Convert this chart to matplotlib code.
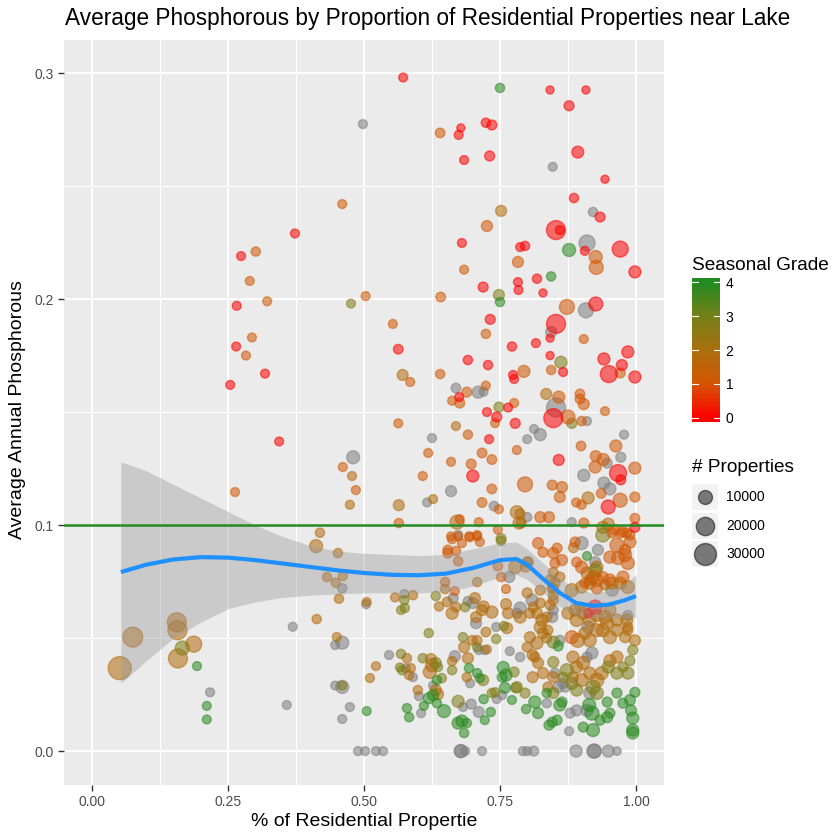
import numpy as np
import matplotlib
matplotlib.use("Agg")
import matplotlib.pyplot as plt
from matplotlib.colors import LinearSegmentedColormap, to_rgba
from matplotlib.patches import Rectangle

plt.rcParams['font.family'] = ['Liberation Sans', 'DejaVu Sans']

# ---- data: (pct residential, avg phosphorous, # properties) per grade class ----
red_x = [0.274, 0.373, 0.266, 0.265, 0.318, 0.254, 0.344, 0.572, 0.724, 0.735, 0.678, 0.674, 0.684, 0.731,
         0.680, 0.719, 0.783, 0.784, 0.787, 0.842, 0.908, 0.877, 0.893, 0.943, 0.886, 0.934, 0.853, 0.860,
         0.796, 0.906, 0.971, 0.998, 0.818, 0.829, 0.926, 0.732, 0.563, 0.772, 0.691, 0.728, 0.774, 0.776,
         0.675, 0.765, 0.726, 0.744, 0.778, 0.730, 0.700, 0.853, 0.842, 0.816, 0.842, 0.866, 0.941, 0.985,
         0.950, 0.974, 0.998, 0.848, 0.858, 0.967, 0.972, 0.949, 0.998, 0.925, 0.912]
red_y = [0.219, 0.229, 0.197, 0.179, 0.167, 0.162, 0.137, 0.298, 0.278, 0.277, 0.2757, 0.2726, 0.2615, 0.2633,
         0.2248, 0.2053, 0.2075, 0.204, 0.223, 0.2925, 0.2925, 0.2855, 0.265, 0.253, 0.2447, 0.2363, 0.2305, 0.2305,
         0.2235, 0.2213, 0.2221, 0.212, 0.209, 0.2027, 0.1978, 0.191, 0.1778, 0.179, 0.173, 0.1708, 0.1664, 0.1646,
         0.1566, 0.152, 0.150, 0.1478, 0.145, 0.138, 0.1217, 0.189, 0.1827, 0.1805, 0.175, 0.1677, 0.1735, 0.1766,
         0.1668, 0.1708, 0.1655, 0.1473, 0.1288, 0.123, 0.120, 0.108, 0.099, 0.0637, 0.061]
red_n = [1500, 1500, 1500, 1500, 1500, 1500, 1500, 1500, 2000, 3000, 500, 1500, 1500, 3000,
         1500, 3000, 1500, 1500, 1500, 500, 500, 3000, 6000, 500, 2000, 3000, 21700, 1500,
         2000, 1500, 14300, 6300, 2000, 500, 10000, 3000, 2500, 2000, 2000, 2000, 1500, 1500,
         1500, 1500, 1500, 3000, 3000, 1500, 6300, 21700, 500, 1500, 500, 1500, 6300, 6300,
         16500, 4500, 6300, 21700, 4500, 16500, 3000, 10000, 3000, 10000, 1500]

orange_x = [0.460, 0.301, 0.290, 0.322, 0.294, 0.283, 0.263, 0.461, 0.485, 0.640, 0.726, 0.684, 0.783, 0.503,
            0.641, 0.926, 0.927, 0.873, 0.553, 0.724, 0.585, 0.640, 0.794, 0.689, 0.724, 0.662, 0.676, 0.776,
            0.741, 0.563, 0.691, 0.781, 0.618, 0.717, 0.660, 0.735, 0.697, 0.608, 0.796, 0.735, 0.717, 0.748,
            0.564, 0.676, 0.711, 0.746, 0.660, 0.673, 0.693, 0.708, 0.904, 0.844, 0.971, 0.858, 0.897, 0.897,
            0.904, 0.875, 0.900, 0.943, 0.899, 0.963, 0.926, 0.940, 0.925, 0.998, 0.846, 0.864, 0.860, 0.936,
            0.890, 0.900, 0.971, 0.998, 0.824, 0.840, 0.904, 0.998, 0.961, 0.976, 0.662, 0.680, 0.708, 0.695,
            0.713, 0.654, 0.669, 0.654, 0.673, 0.746, 0.752, 0.649, 0.667, 0.761, 0.952, 0.967, 0.980, 0.985,
            0.965, 0.980, 0.989, 0.956, 0.971, 0.983, 0.989, 0.888, 0.820, 0.829, 0.848, 0.855, 0.864, 0.851,
            0.921, 0.939, 0.952, 0.976, 0.906, 0.928, 0.900, 0.891, 0.882]
orange_y = [0.242, 0.221, 0.208, 0.199, 0.183, 0.175, 0.1146, 0.1257, 0.1155, 0.2735, 0.2323, 0.213, 0.2164, 0.2013,
            0.2009, 0.2186, 0.214, 0.1965, 0.189, 0.1846, 0.1633, 0.1668, 0.168, 0.1588, 0.1617, 0.155, 0.154, 0.154,
            0.1451, 0.145, 0.140, 0.1332, 0.1319, 0.1319, 0.128, 0.129, 0.127, 0.1217, 0.118, 0.116, 0.110, 0.107,
            0.1009, 0.1026, 0.1013, 0.098, 0.095, 0.095, 0.095, 0.095, 0.1823, 0.1686, 0.1673, 0.1566, 0.158, 0.1558,
            0.1535, 0.1478, 0.146, 0.1504, 0.135, 0.135, 0.1305, 0.129, 0.1257, 0.1252, 0.1177, 0.1168, 0.1124, 0.114,
            0.110, 0.109, 0.111, 0.1124, 0.1035, 0.1035, 0.1009, 0.103, 0.0978, 0.097, 0.0938, 0.092, 0.0956, 0.0947,
            0.0925, 0.089, 0.0885, 0.0876, 0.084, 0.0819, 0.077, 0.0748, 0.0708, 0.0717, 0.0858, 0.0854, 0.0867, 0.0832,
            0.0911, 0.089, 0.0925, 0.0965, 0.0965, 0.0965, 0.0956, 0.0925, 0.092, 0.088, 0.0876, 0.0898, 0.0845, 0.0832,
            0.077, 0.077, 0.0757, 0.077, 0.0743, 0.072, 0.0814, 0.0836, 0.0504]
orange_n = [1500, 2000, 1500, 1500, 1500, 1500, 1500, 1500, 1500, 2500, 4500, 1500, 4500, 1500,
            2500, 8000, 10000, 12000, 1500, 2000, 1500, 2000, 6300, 3000, 1500, 1500, 3000, 1500,
            1500, 1500, 2000, 1500, 1500, 2500, 1500, 2500, 3000, 1500, 12000, 2500, 2500, 1500,
            2000, 1500, 1500, 1500, 1500, 1500, 1500, 1500, 1500, 2000, 3000, 6300, 2500, 2500,
            4500, 10000, 2000, 1500, 2500, 6300, 4500, 6300, 6300, 6300, 3000, 4500, 4500, 2500,
            1500, 2000, 10000, 3000, 4500, 4500, 3000, 2500, 3000, 3000, 2000, 1500, 1500, 2000,
            1500, 2500, 2000, 3000, 2000, 2500, 2000, 2000, 1500, 1500, 6300, 8000, 8000, 8000,
            10000, 4500, 6300, 3000, 3000, 3000, 3000, 3000, 4500, 3000, 4500, 3000, 4500, 3000,
            6300, 4500, 6300, 6300, 3000, 4500, 6300, 3000, 8000]

brown_x = [0.051, 0.075, 0.156, 0.157, 0.187, 0.158, 0.413, 0.419, 0.412, 0.452, 0.478, 0.474, 0.432, 0.448,
           0.461, 0.454, 0.450, 0.752, 0.571, 0.669, 0.627, 0.564, 0.781, 0.671, 0.785, 0.835, 0.912, 0.939,
           0.949, 0.787, 0.789, 0.778, 0.649, 0.708, 0.590, 0.505, 0.638, 0.653, 0.669, 0.662, 0.704, 0.720,
           0.735, 0.717, 0.706, 0.761, 0.765, 0.763, 0.724, 0.708, 0.699, 0.684, 0.726, 0.579, 0.691, 0.623,
           0.662, 0.586, 0.583, 0.522, 0.511, 0.621, 0.625, 0.689, 0.632, 0.636, 0.599, 0.810, 0.829, 0.848,
           0.838, 0.814, 0.820, 0.884, 0.900, 0.915, 0.928, 0.937, 0.952, 0.965, 0.903, 0.891, 0.884, 0.800,
           0.810, 0.805, 0.818, 0.829, 0.838, 0.824, 0.836, 0.893, 0.906, 0.915, 0.928, 0.939, 0.952, 0.965,
           0.980, 0.985, 0.998, 0.947, 0.965, 0.943, 0.952, 0.983, 0.985, 0.891, 0.903, 0.915, 0.928, 0.888,
           0.897, 0.875, 0.818, 0.827, 0.836, 0.787, 0.805, 0.811, 0.824, 0.842, 0.848, 0.800, 0.824, 0.846,
           0.848, 0.882, 0.900, 0.915, 0.928, 0.943, 0.956, 0.971, 0.985, 0.910, 0.915, 0.928, 0.797, 0.801,
           0.848, 0.860, 0.842, 0.851, 0.848, 0.885, 0.557]
brown_y = [0.0367, 0.0504, 0.057, 0.0535, 0.0473, 0.041, 0.0584, 0.0966, 0.0907, 0.0876, 0.1217, 0.109, 0.077, 0.0745,
           0.0775, 0.0674, 0.0505, 0.239, 0.1664, 0.1438, 0.1115, 0.1088, 0.1057, 0.1013, 0.1009, 0.158, 0.112, 0.099,
           0.1004, 0.105, 0.101, 0.0814, 0.0717, 0.0748, 0.069, 0.066, 0.064, 0.066, 0.0637, 0.061, 0.0677, 0.064,
           0.0615, 0.0624, 0.0593, 0.065, 0.061, 0.0544, 0.0527, 0.049, 0.049, 0.046, 0.045, 0.0411, 0.0411, 0.0407,
           0.0398, 0.0367, 0.0336, 0.0376, 0.0323, 0.035, 0.038, 0.0327, 0.027, 0.0252, 0.027, 0.0327, 0.0345, 0.0327,
           0.0283, 0.0416, 0.039, 0.0327, 0.0314, 0.0345, 0.0314, 0.0345, 0.040, 0.0416, 0.039, 0.0372, 0.0416, 0.046,
           0.0425, 0.0504, 0.0478, 0.0522, 0.0535, 0.0549, 0.050, 0.049, 0.0522, 0.049, 0.0535, 0.0535, 0.0504, 0.0535,
           0.0504, 0.0535, 0.049, 0.0566, 0.058, 0.0593, 0.0624, 0.058, 0.0549, 0.058, 0.061, 0.058, 0.060, 0.0624,
           0.0637, 0.061, 0.061, 0.058, 0.0593, 0.0593, 0.061, 0.0637, 0.0655, 0.0646, 0.0668, 0.070, 0.0712, 0.072,
           0.069, 0.0712, 0.0726, 0.0743, 0.0757, 0.0735, 0.0743, 0.0743, 0.0726, 0.0788, 0.0757, 0.0814, 0.0814, 0.0836,
           0.079, 0.077, 0.0757, 0.0743, 0.072, 0.090, 0.068]
brown_n = [33400, 24000, 21700, 21700, 14300, 21700, 2000, 2000, 8000, 2000, 1500, 1500, 2000, 2000,
           2000, 2000, 1500, 4500, 4500, 1500, 1500, 4500, 8000, 10000, 6300, 4500, 6300, 6300,
           6300, 3000, 3000, 8000, 2000, 2000, 2000, 1500, 2000, 2500, 2500, 6300, 4500, 4500,
           6300, 4500, 4500, 4500, 4500, 4500, 2500, 2500, 2500, 4500, 1500, 2000, 4500, 4500,
           2000, 2000, 2000, 1500, 1500, 8000, 8000, 2000, 4500, 4500, 2000, 4500, 4500, 4500,
           3000, 3000, 4500, 4500, 8000, 6300, 10000, 8000, 6300, 6300, 8000, 6300, 6300, 3000,
           4500, 4500, 6300, 4500, 3000, 6300, 3000, 10000, 6300, 8000, 8000, 8000, 8000, 6300,
           4500, 3000, 4500, 8000, 6300, 8000, 6300, 6300, 3000, 8000, 6300, 8000, 6300, 6300,
           3000, 6300, 4500, 6300, 3000, 6300, 3000, 3000, 3000, 3000, 3000, 3000, 3000, 3000,
           3000, 8000, 6300, 6300, 8000, 3000, 6300, 6300, 8000, 6300, 3000, 6300, 3000, 3000,
           3000, 3000, 3000, 3000, 3000, 3000, 1500]

olive_x = [0.476, 0.166, 0.748, 0.862, 0.882, 0.748, 0.752, 0.939, 0.925, 0.752, 0.574, 0.575, 0.632, 0.686,
           0.757, 0.619, 0.682, 0.743, 0.708, 0.568, 0.608, 0.632, 0.570, 0.566, 0.636, 0.643, 0.662, 0.719,
           0.673, 0.735, 0.741, 0.776, 0.779, 0.568, 0.921, 0.928, 0.891, 0.882, 0.848, 0.781, 0.796, 0.848,
           0.873, 0.866, 0.949, 0.965, 0.976, 0.985, 0.989, 0.994, 0.848, 0.460]
olive_y = [0.198, 0.0456, 0.2018, 0.172, 0.145, 0.1522, 0.094, 0.0956, 0.080, 0.093, 0.0668, 0.0633, 0.0686, 0.0637,
           0.0553, 0.0522, 0.0504, 0.0496, 0.046, 0.043, 0.0411, 0.039, 0.0358, 0.037, 0.0372, 0.0323, 0.0358, 0.0314,
           0.022, 0.0257, 0.026, 0.035, 0.028, 0.0624, 0.0283, 0.0257, 0.027, 0.030, 0.0257, 0.0283, 0.0257, 0.0394,
           0.0358, 0.0327, 0.0372, 0.0345, 0.0372, 0.0345, 0.040, 0.0447, 0.0482, 0.029]
olive_n = [1500, 10000, 4500, 6300, 3000, 3000, 3000, 10000, 8000, 2000, 2000, 2000, 2000, 2000,
           2000, 2000, 2000, 2000, 2000, 2000, 2000, 4500, 2000, 1500, 2000, 2000, 2000, 4500,
           6300, 2000, 2000, 3000, 3000, 1500, 10000, 8000, 6300, 6300, 4500, 4500, 3000, 4500,
           8000, 3000, 6300, 6300, 3000, 6300, 3000, 3000, 6300, 1500]

green_x = [0.750, 0.750, 0.877, 0.844, 0.193, 0.211, 0.211, 0.505, 0.693, 0.708, 0.713, 0.634, 0.619, 0.627,
           0.634, 0.647, 0.720, 0.733, 0.722, 0.673, 0.680, 0.689, 0.684, 0.579, 0.583, 0.610, 0.756, 0.761,
           0.754, 0.759, 0.772, 0.994, 0.994, 0.921, 0.903, 0.840, 0.846, 0.855, 0.947, 0.952, 0.934, 0.991,
           0.994, 0.914, 0.919, 0.814, 0.820, 0.798, 0.836, 0.860, 0.864, 0.965, 0.976, 0.998, 0.989, 0.947,
           0.857, 0.910]
green_y = [0.2934, 0.1987, 0.2217, 0.210, 0.0376, 0.020, 0.014, 0.0177, 0.0367, 0.0345, 0.0323, 0.0314, 0.0234, 0.0248,
           0.0212, 0.0177, 0.023, 0.0173, 0.0137, 0.0124, 0.0133, 0.0124, 0.008, 0.019, 0.015, 0.020, 0.037, 0.0336,
           0.0327, 0.028, 0.0226, 0.0093, 0.008, 0.0093, 0.0106, 0.0115, 0.0128, 0.0137, 0.015, 0.0168, 0.0137, 0.018,
           0.0146, 0.0204, 0.0168, 0.0217, 0.0168, 0.0186, 0.0257, 0.0204, 0.0217, 0.0257, 0.0212, 0.026, 0.0226, 0.0217,
           0.0465, 0.0863]
green_n = [2000, 2000, 8000, 2000, 1500, 1500, 1500, 1500, 2000, 2000, 2000, 2000, 4500, 4500,
           2000, 8000, 2000, 2000, 1500, 6300, 6300, 2000, 2000, 2000, 2000, 1500, 6300, 6300,
           3000, 4500, 1500, 6300, 6300, 8000, 3000, 3000, 3000, 3000, 4500, 3000, 3000, 4500,
           6300, 8000, 10000, 6300, 4500, 2000, 2000, 6300, 3000, 3000, 3000, 3000, 4500, 3000,
           3000, 1500]

# no seasonal grade (NA)
gray_x = [0.480, 0.217, 0.358, 0.369, 0.460, 0.447, 0.460, 0.447, 0.460, 0.474, 0.460, 0.489, 0.498, 0.847,
          0.921, 0.910, 0.908, 0.669, 0.710, 0.720, 0.625, 0.800, 0.660, 0.616, 0.739, 0.844, 0.853, 0.910,
          0.8125, 0.824, 0.978, 0.972, 0.947, 0.904, 0.941, 0.952, 0.800, 0.882, 0.673, 0.767, 0.504, 0.664,
          0.700, 0.691, 0.706, 0.743, 0.711, 0.722, 0.768, 0.546, 0.667, 0.577, 0.590, 0.695, 0.627, 0.601,
          0.682, 0.697, 0.711, 0.744, 0.754, 0.605, 0.574, 0.502, 0.522, 0.535, 0.678, 0.678, 0.686, 0.717,
          0.792, 0.800, 0.812, 0.890, 0.923, 0.923, 0.949, 0.965, 0.877, 0.879, 0.891, 0.910, 0.836, 0.915,
          0.857, 0.866, 0.787, 0.851, 0.870, 0.919, 0.910, 0.860, 0.985, 0.912, 0.846, 0.787, 0.781, 0.848,
          0.809, 0.956, 0.925, 0.930, 0.900, 0.801]
gray_y = [0.130, 0.026, 0.0204, 0.055, 0.072, 0.0469, 0.048, 0.029, 0.0284, 0.0195, 0.0142, 0.0, 0.2774, 0.2585,
          0.2385, 0.2248, 0.195, 0.1606, 0.1588, 0.159, 0.1385, 0.138, 0.115, 0.110, 0.1084, 0.1854, 0.152, 0.146,
          0.1425, 0.140, 0.140, 0.130, 0.1274, 0.122, 0.1186, 0.116, 0.1035, 0.1013, 0.0956, 0.077, 0.065, 0.0677,
          0.0655, 0.0664, 0.0566, 0.0549, 0.0447, 0.0447, 0.0442, 0.0425, 0.042, 0.0367, 0.0327, 0.030, 0.029, 0.0243,
          0.0195, 0.0208, 0.0173, 0.023, 0.0248, 0.0168, 0.0695, 0.0, 0.0, 0.0, 0.0, 0.0, 0.0, 0.0,
          0.0, 0.0, 0.0, 0.0, 0.0, 0.0, 0.0, 0.0, 0.0088, 0.0168, 0.018, 0.018, 0.0212, 0.0257,
          0.0283, 0.030, 0.0416, 0.0345, 0.0283, 0.0434, 0.0416, 0.049, 0.060, 0.0549, 0.0593, 0.0633, 0.061, 0.0624,
          0.0668, 0.0712, 0.0836, 0.089, 0.092, 0.0836]
gray_n = [8000, 1500, 1500, 1500, 2000, 1500, 8000, 1500, 8000, 1500, 1500, 1500, 1500, 1500,
          2000, 14300, 12000, 2500, 6300, 1500, 1500, 1500, 4500, 1500, 2500, 4500, 21700, 1500,
          1500, 6300, 1500, 3000, 3000, 6300, 6300, 6300, 2000, 1500, 2000, 4500, 1500, 3000,
          4500, 2000, 4500, 1500, 1500, 1500, 1500, 1500, 4500, 1500, 1500, 1500, 1500, 1500,
          1500, 3000, 4500, 1500, 1500, 1500, 1500, 1500, 1500, 1500, 8000, 8000, 1500, 1500,
          1500, 1500, 3000, 6300, 10000, 10000, 6300, 1000, 1500, 3000, 4500, 6300, 2000, 6300,
          4500, 3000, 2000, 3000, 3000, 6300, 3000, 3000, 3000, 6300, 4500, 6300, 3000, 3000,
          6300, 6300, 4500, 4500, 8000, 4500]

grade_classes = [
    (gray_x, gray_y, gray_n, None),
    (brown_x, brown_y, brown_n, 1.8),
    (olive_x, olive_y, olive_n, 2.8),
    (green_x, green_y, green_n, 3.9),
    (orange_x, orange_y, orange_n, 1.1),
    (red_x, red_y, red_n, 0.0),
]

# loess smooth and its confidence band
sm_x = [0.053, 0.10, 0.15, 0.20, 0.25, 0.30, 0.35, 0.40, 0.45, 0.50, 0.55, 0.60, 0.65, 0.70,
        0.75, 0.78, 0.80, 0.83, 0.86, 0.89, 0.92, 0.95, 0.98, 1.00]
sm_y = [0.0792, 0.0825, 0.0848, 0.0858, 0.0856, 0.0845, 0.0830, 0.0815, 0.0800, 0.0788, 0.0780, 0.0778, 0.0785, 0.0810,
        0.0845, 0.0850, 0.0825, 0.0760, 0.0700, 0.0655, 0.0643, 0.0648, 0.0668, 0.0686]
sm_lo = [0.030, 0.040, 0.050, 0.057, 0.063, 0.066, 0.068, 0.069, 0.0695, 0.070, 0.070, 0.070, 0.0705, 0.073,
         0.077, 0.078, 0.076, 0.070, 0.064, 0.060, 0.059, 0.059, 0.059, 0.059]
sm_hi = [0.128, 0.124, 0.118, 0.112, 0.106, 0.100, 0.095, 0.091, 0.0885, 0.0875, 0.0870, 0.0865, 0.0870, 0.0895,
         0.0920, 0.0925, 0.0895, 0.0830, 0.0765, 0.0715, 0.0700, 0.0710, 0.0740, 0.0780]

threshold = 0.1
grade_ticks = [0, 1, 2, 3, 4]
size_breaks = [10000, 20000, 30000]

# red -> forestgreen, interpolated in Lab like ggplot's gradient
cmap = LinearSegmentedColormap.from_list(
    'grade', ['#FF0000', '#D55503', '#A9700D', '#768018', '#228B22'])
ALPHA = 0.55


def marker_area(n):
    d_px = np.sqrt(75 + 0.015 * np.asarray(n, dtype=float)) - 1.0
    return (d_px * 0.72) ** 2


fig = plt.figure(figsize=(8.4, 8.4), dpi=100)
ax = fig.add_axes([64 / 840, 55 / 840, 600 / 840, 745 / 840])
ax.set_facecolor('#EBEBEB')
for s in ax.spines.values():
    s.set_visible(False)
ax.set_xlim(-0.0515, 1.0515)
ax.set_ylim(-0.015, 0.3146)
ax.set_xticks([0, 0.25, 0.5, 0.75, 1.0])
ax.set_xticklabels(['0.00', '0.25', '0.50', '0.75', '1.00'])
ax.set_xticks([0.125, 0.375, 0.625, 0.875], minor=True)
ax.set_yticks([0, 0.1, 0.2, 0.3])
ax.set_yticklabels(['0.0', '0.1', '0.2', '0.3'])
ax.set_yticks([0.05, 0.15, 0.25], minor=True)
ax.grid(which='major', color='white', lw=1.3)
ax.grid(which='minor', color='white', lw=0.7)
ax.set_axisbelow(True)
ax.tick_params(which='major', length=4, width=1, color='#333333', labelsize=10, labelcolor='#4D4D4D')
ax.tick_params(which='minor', length=0)

for xs, ys, ns, g in grade_classes:
    if g is None:
        col = to_rgba('#7F7F7F', ALPHA)
    else:
        col = cmap(g / 4.0, alpha=ALPHA)
    ax.scatter(xs, ys, s=marker_area(ns), facecolors=[col], edgecolors=[col], linewidths=1.0, zorder=2)

ax.fill_between(sm_x, sm_lo, sm_hi, color='#999999', alpha=0.4, lw=0, zorder=3)
ax.plot(sm_x, sm_y, color='#1E90FF', lw=3, solid_capstyle='butt', zorder=4)
ax.axhline(threshold, color='#228B22', lw=1.8, zorder=5)

fig.text(65 / 840, 1 - 18 / 840, 'Average Phosphorous by Proportion of Residential Properties near Lake',
         fontsize=16.3, ha='left', va='center')
fig.text(364 / 840, 1 - 822 / 840, '% of Residential Propertie', fontsize=14, ha='center', va='center')
fig.text(18 / 840, 1 - 410 / 840, 'Average Annual Phosphorous', fontsize=14, ha='center', va='center',
         rotation=90)

# colour bar legend
cax = fig.add_axes([692 / 840, 1 - 422 / 840, 28 / 840, 144 / 840])
grad = np.linspace(-0.12, 4.12, 200)[:, None]
cax.imshow(grad, extent=[0, 1, -0.12, 4.12], origin='lower', aspect='auto', cmap=cmap, vmin=0, vmax=4)
cax.set_xlim(0, 1)
cax.set_ylim(-0.12, 4.12)
for s in cax.spines.values():
    s.set_visible(False)
cax.set_xticks([])
cax.yaxis.tick_right()
cax.set_yticks(grade_ticks)
cax.set_yticklabels([str(t) for t in grade_ticks])
cax.tick_params(length=0, labelsize=10, pad=4)
for t in grade_ticks:
    cax.plot([0, 0.2], [t, t], color='white', lw=0.8)
    cax.plot([0.8, 1], [t, t], color='white', lw=0.8)
fig.text(692 / 840, 1 - 265 / 840, 'Seasonal Grade', fontsize=13.7, ha='left', va='center')

# size legend drawn in pixel coordinates
lax = fig.add_axes([0, 0, 1, 1], facecolor='none')
lax.set_xlim(0, 840)
lax.set_ylim(840, 0)
lax.axis('off')
lax.text(692, 468, '# Properties', fontsize=13.7, ha='left', va='center')
key_y = [497, 526, 554]
for ky, n in zip(key_y, size_breaks):
    lax.add_patch(Rectangle((692, ky - 13), 26, 26, facecolor='#F2F2F2', edgecolor='none'))
    lax.scatter([705], [ky], s=marker_area([n]), facecolors=[to_rgba('#000000', 0.5)],
                edgecolors=[to_rgba('#000000', 0.5)], linewidths=1.0)
    lax.text(726, ky, str(n), fontsize=10, ha='left', va='center')

fig.savefig('out.png', dpi=100)
